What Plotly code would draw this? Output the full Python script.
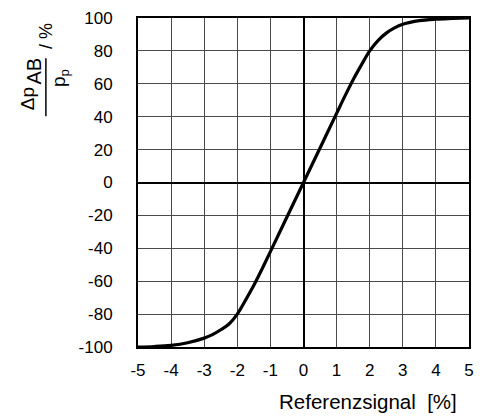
import plotly.graph_objects as go

# Valve characteristic: pressure gain vs. reference signal
ref_signal = [-5, -4.5, -4, -3.5, -3, -2.75, -2.5, -2.25, -2, -1.75, -1.5, -1.25, -1, -0.5, 0,
              0.5, 1, 1.25, 1.5, 1.75, 2, 2.25, 2.5, 2.75, 3, 3.5, 4, 4.5, 5]
pressure_pct = [-100, -99.7, -99, -97.4, -94.6, -92.5, -89.5, -86, -80, -71.5, -62.5, -52.5, -42, -21, 0,
                21, 42, 52.5, 62.5, 71.5, 80, 86.3, 90.8, 94, 96.2, 98.4, 99.3, 99.7, 100]

x_ticks = [-5, -4, -3, -2, -1, 0, 1, 2, 3, 4, 5]
y_ticks = [-100, -80, -60, -40, -20, 0, 20, 40, 60, 80, 100]

W, H = 483, 418
L, R, T, B = 138, 9, 12, 71
pw, ph = W - L - R, H - T - B

def px_x(px):
    return (px - L) / pw

def px_y(py):
    return (H - B - py) / ph

font = "Liberation Sans, Arial, sans-serif"

fig = go.Figure()
fig.add_trace(go.Scatter(
    x=ref_signal, y=pressure_pct, mode="lines",
    line=dict(color="black", width=3.2, shape="spline", smoothing=1.0),
    hoverinfo="skip", showlegend=False,
))

axis_common = dict(
    showgrid=True, gridcolor="#4a4a4a", gridwidth=1.3,
    zeroline=True, zerolinecolor="black", zerolinewidth=2,
    showline=True, linecolor="black", linewidth=2, mirror=True,
    ticks="", tickfont=dict(family=font, size=17, color="black"),
)

fig.update_xaxes(range=[-5, 5], tickvals=x_ticks, ticktext=[str(v) for v in x_ticks],
                 ticklabelstandoff=7, **axis_common)
fig.update_yaxes(range=[-100, 100], tickvals=y_ticks, ticktext=[str(v) for v in y_ticks],
                 ticklabelstandoff=20, **axis_common)

fig.add_annotation(text="Referenzsignal\u00a0 [%]", xref="paper", yref="paper",
                   x=px_x(464), y=px_y(403), xanchor="right", yanchor="middle",
                   showarrow=False, font=dict(family=font, size=20.5, color="black"))

# Y-axis label as a rotated fraction: Δp_AB / p_p  / %
fig.add_annotation(text="Δp", xref="paper", yref="paper",
                   x=px_x(26), y=px_y(94), textangle=-90,
                   xanchor="center", yanchor="middle", showarrow=False,
                   font=dict(family=font, size=19, color="black"))
fig.add_annotation(text="AB", xref="paper", yref="paper",
                   x=px_x(32), y=px_y(66), textangle=-90,
                   xanchor="center", yanchor="middle", showarrow=False,
                   font=dict(family=font, size=20, color="black"))
fig.add_annotation(text="p<sub>p</sub>", xref="paper", yref="paper",
                   x=px_x(59), y=px_y(73), textangle=-90,
                   xanchor="center", yanchor="middle", showarrow=False,
                   font=dict(family=font, size=19, color="black"))
fig.add_annotation(text="/ %", xref="paper", yref="paper",
                   x=px_x(44), y=px_y(30), textangle=-90,
                   xanchor="center", yanchor="middle", showarrow=False,
                   font=dict(family=font, size=18, color="black"))
fig.add_shape(type="line", xref="paper", yref="paper",
              x0=px_x(44.5), x1=px_x(44.5), y0=px_y(53), y1=px_y(112),
              line=dict(color="black", width=1.5))

fig.update_layout(
    width=W, height=H,
    margin=dict(l=L, r=R, t=T, b=B),
    paper_bgcolor="white", plot_bgcolor="white",
)

fig.write_html("out.html")
